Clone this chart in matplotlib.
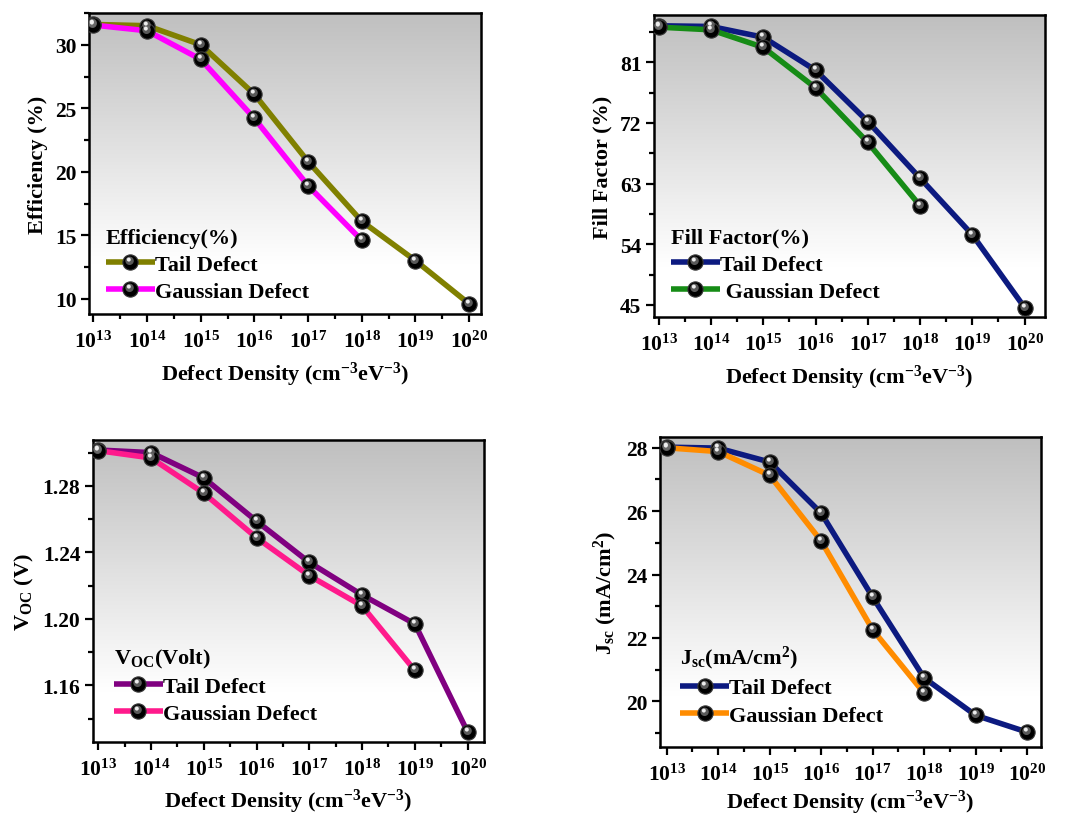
import numpy as np
import matplotlib
matplotlib.use("Agg")
from matplotlib import pyplot as plt
from matplotlib.lines import Line2D
from matplotlib.path import Path
from matplotlib.ticker import FixedLocator, MultipleLocator, FormatStrFormatter


plt.rcParams["font.family"] = ["Liberation Serif", "DejaVu Serif"]
plt.rcParams["font.weight"] = "bold"
plt.rcParams["mathtext.fontset"] = "custom"
plt.rcParams["mathtext.rm"] = "Liberation Serif:bold"
plt.rcParams["mathtext.it"] = "Liberation Serif:bold"
plt.rcParams["mathtext.bf"] = "Liberation Serif:bold"

# log10 of the defect density (cm^-3 eV^-3)
log_density = [13, 14, 15, 16, 17, 18, 19, 20]
log_density_gauss = [13, 14, 15, 16, 17, 18]

eff_tail = [31.6, 31.5, 30.0, 26.1, 20.8, 16.1, 13.0, 9.6]
eff_gauss = [31.55, 31.1, 28.85, 24.2, 18.9, 14.6]

ff_tail = [86.4, 86.3, 84.7, 79.8, 72.2, 63.8, 55.4, 44.6]
ff_gauss = [86.2, 85.8, 83.2, 77.2, 69.1, 59.7]

voc_tail = [1.3016, 1.3000, 1.2848, 1.2588, 1.2340, 1.2144, 1.1970, 1.1320]
voc_gauss = [1.3012, 1.2968, 1.2756, 1.2488, 1.2260, 1.2078, 1.1690]
log_density_voc_gauss = [13, 14, 15, 16, 17, 18, 19]

jsc_tail = [28.02, 27.99, 27.55, 25.94, 23.29, 20.74, 19.56, 19.03]
jsc_gauss = [28.00, 27.88, 27.13, 25.06, 22.26, 20.26]

x_tick_labels = [f"$10^{{{n}}}$" for n in log_density]
x_label = "Defect Density (cm$^{-3}$eV$^{-3}$)"


def glint_path(cx, cy, r):
    # circle off-centre inside the unit marker box; the two stray MOVETOs
    # pin the normalisation so the glint keeps its offset
    circ = Path.circle((cx, cy), r)
    verts = np.vstack([circ.vertices, [[1, 1], [-1, -1]]])
    codes = np.concatenate([circ.codes, [Path.MOVETO, Path.MOVETO]])
    return Path(verts, codes)


GLINT_SOFT = glint_path(-0.12, 0.22, 0.55)
GLINT_HARD = glint_path(-0.22, 0.38, 0.26)
MS = 11
LW = 4.0


def sphere_handles(color):
    base = Line2D([], [], color=color, lw=LW, marker="o", ms=MS,
                  mfc="black", mec="#3a3a3a", mew=0.8,
                  solid_capstyle="butt")
    soft = Line2D([], [], ls="none", marker=GLINT_SOFT, ms=MS,
                  mfc="#6a6a6a", mec="none", alpha=0.85)
    hard = Line2D([], [], ls="none", marker=GLINT_HARD, ms=MS,
                  mfc="#ececec", mec="none")
    return (base, soft, hard)


def plot_series(ax, x, y, color):
    ax.plot(x, y, color=color, lw=LW, solid_joinstyle="round",
            solid_capstyle="round", zorder=3)
    ax.plot(x, y, ls="none", marker="o", ms=MS, mfc="black",
            mec="#3a3a3a", mew=0.8, zorder=4)
    ax.plot(x, y, ls="none", marker=GLINT_SOFT, ms=MS, mfc="#6a6a6a",
            mec="none", alpha=0.85, zorder=5)
    ax.plot(x, y, ls="none", marker=GLINT_HARD, ms=MS, mfc="#ececec",
            mec="none", zorder=6)


def shade_background(ax):
    grad = np.linspace(0.0, 1.0, 256).reshape(-1, 1)
    grey = np.clip(0.75 + 0.30 * grad, 0, 1.0)
    img = np.dstack([grey, grey, grey])
    ax.imshow(img, extent=(0, 1, 0, 1), transform=ax.transAxes,
              origin="upper", aspect="auto", zorder=0, interpolation="bilinear")


def style_axes(ax, xlim, ylim, ymajor, yminor, yfmt, ylabel, xlabelpad):
    ax.set_xlim(*xlim)
    ax.set_ylim(*ylim)
    ax.xaxis.set_major_locator(FixedLocator(log_density))
    ax.xaxis.set_minor_locator(FixedLocator([n + 0.5 for n in log_density[:-1]]))
    ax.set_xticklabels(x_tick_labels)
    ax.yaxis.set_major_locator(MultipleLocator(ymajor))
    ax.yaxis.set_minor_locator(MultipleLocator(yminor))
    ax.yaxis.set_major_formatter(FormatStrFormatter(yfmt))
    ax.tick_params(which="both", direction="out", top=False, right=False,
                   width=1.6, labelsize=15.5)
    ax.tick_params(axis="x", which="major", length=6, pad=6)
    ax.tick_params(axis="y", which="major", length=6, pad=3)
    ax.tick_params(which="minor", length=3.5)
    for sp in ax.spines.values():
        sp.set_linewidth(1.8)
    ax.set_xlabel(x_label, fontsize=16, fontweight="bold", labelpad=xlabelpad)
    ax.set_ylabel(ylabel, fontsize=16, fontweight="bold", labelpad=5)
    shade_background(ax)


def add_legend(ax, title, tail_color, gauss_color, anchor, gap=""):
    leg = ax.legend(
        [sphere_handles(tail_color), sphere_handles(gauss_color)],
        ["Tail Defect", gap + "Gaussian Defect"],
        title=title,
        loc="lower left",
        bbox_to_anchor=anchor,
        frameon=False,
        alignment="left",
        handlelength=2.2,
        handletextpad=0.0,
        labelspacing=0.3,
        borderaxespad=0.0,
        prop={"family": "Liberation Serif", "weight": "bold", "size": 16},
        title_fontproperties={"family": "Liberation Serif", "weight": "bold",
                              "size": 16},
    )
    leg.set_zorder(7)
    return leg


W, H = 1065, 820
fig = plt.figure(figsize=(W / 100, H / 100), dpi=100)


def px_axes(left, right, top, bottom):
    return fig.add_axes([left / W, 1 - bottom / H, (right - left) / W,
                         (bottom - top) / H])


ax1 = px_axes(89, 481, 14, 315)
plot_series(ax1, log_density, eff_tail, "#808000")
plot_series(ax1, log_density_gauss, eff_gauss, "#ff00ff")
style_axes(ax1, (12.92, 20.22), (8.8, 32.5), 5, 2.5, "%d",
           "Efficiency (%)", 6)
add_legend(ax1, "Efficiency(%)", "#808000", "#ff00ff", (0.02, 0.01))

ax2 = px_axes(654, 1045, 16, 318)
plot_series(ax2, log_density, ff_tail, "#0c1a80")
plot_series(ax2, log_density_gauss, ff_gauss, "#168c16")
style_axes(ax2, (12.91, 20.39), (43.2, 88.0), 9, 4.5, "%d",
           "Fill Factor (%)", 6)
add_legend(ax2, "Fill Factor(%)", "#0c1a80", "#168c16", (0.02, 0.02), gap=" ")

ax3 = px_axes(93, 484, 441, 743)
plot_series(ax3, log_density, voc_tail, "#800080")
plot_series(ax3, log_density_voc_gauss, voc_gauss, "#ff1a8c")
style_axes(ax3, (12.9, 20.31), (1.126, 1.3076), 0.04, 0.02, "%.2f",
           "V$_{OC}$ (V)", 5)
add_legend(ax3, "V$_{OC}$(Volt)", "#800080", "#ff1a8c", (0.03, 0.03))

ax4 = px_axes(660, 1041, 438, 748)
plot_series(ax4, log_density, jsc_tail, "#0c1a80")
plot_series(ax4, log_density_gauss, jsc_gauss, "#ff8c00")
style_axes(ax4, (12.87, 20.27), (18.56, 28.34), 2, 1, "%d",
           "J$_{sc}$ (mA/cm$^2$)", 2)
add_legend(ax4, "J$_{sc}$(mA/cm$^2$)", "#0c1a80", "#ff8c00", (0.03, 0.04))

fig.savefig("out.png", dpi=100, facecolor="white")
